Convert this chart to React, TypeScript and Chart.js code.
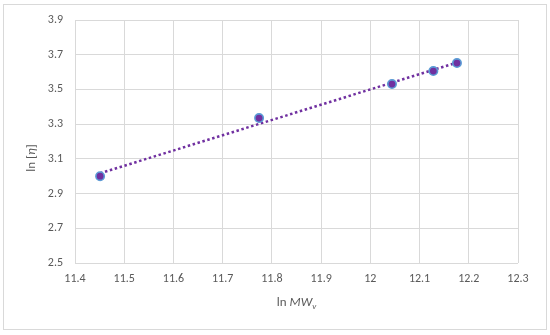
import React, { useEffect, useRef } from "react";
import { Chart, registerables } from "chart.js";

Chart.register(...registerables);

const lnMW = [11.451, 11.774, 12.044, 12.128, 12.176];
const lnEta = [3.0, 3.335, 3.531, 3.606, 3.652];
const trendX = [11.451, 12.176];
const trendY = [3.017, 3.655];
const xTicks = [11.4, 11.5, 11.6, 11.7, 11.8, 11.9, 12, 12.1, 12.2, 12.3];
const yTicks = [2.5, 2.7, 2.9, 3.1, 3.3, 3.5, 3.7, 3.9];

const FONT = "Carlito, Calibri, Lato, 'Open Sans', sans-serif";
const TEXT = "#595959";
const GRID = "#d9d9d9";

const decorPlugin = {
  id: "decor",
  beforeDraw(chart: any) {
    const ctx = chart.ctx;
    ctx.save();
    ctx.fillStyle = "#ffffff";
    ctx.fillRect(0, 0, chart.width, chart.height);
    ctx.strokeStyle = GRID;
    ctx.lineWidth = 1;
    ctx.strokeRect(3.5, 4.5, 543, 325);
    ctx.restore();
  },
  afterDraw(chart: any) {
    const ctx = chart.ctx;
    const area = chart.chartArea;
    ctx.save();
    ctx.fillStyle = TEXT;
    ctx.textBaseline = "middle";
    ctx.textAlign = "left";
    // X title: ln MW_v
    const normal = `13px ${FONT}`;
    const ital = `italic 13px ${FONT}`;
    const sub = `italic 9px ${FONT}`;
    const parts: [string, string, number][] = [
      ["ln ", normal, 0],
      ["MW", ital, 0],
      ["v", sub, 4],
    ];
    let w = 0;
    for (const [t, f] of parts) {
      ctx.font = f;
      w += ctx.measureText(t).width;
    }
    let x = (area.left + area.right) / 2 - w / 2;
    const y = 303;
    for (const [t, f, dy] of parts) {
      ctx.font = f;
      ctx.fillText(t, x, y + dy);
      x += ctx.measureText(t).width;
    }
    // Y title: ln [η]
    const yparts: [string, string][] = [
      ["ln [", normal],
      ["η", ital],
      ["]", normal],
    ];
    let yw = 0;
    for (const [t, f] of yparts) {
      ctx.font = f;
      yw += ctx.measureText(t).width;
    }
    ctx.translate(32, 158);
    ctx.rotate(-Math.PI / 2);
    let px = -yw / 2;
    for (const [t, f] of yparts) {
      ctx.font = f;
      ctx.fillText(t, px, 0);
      px += ctx.measureText(t).width;
    }
    ctx.restore();
  },
};

export default function App() {
  const ref = useRef<HTMLCanvasElement | null>(null);
  useEffect(() => {
    document.body.style.margin = "0";
    const canvas = ref.current;
    if (!canvas) return;
    const chart = new Chart(canvas, {
      type: "scatter",
      data: {
        datasets: [
          {
            label: "points",
            data: lnMW.map((v, i) => ({ x: v, y: lnEta[i] })),
            pointRadius: 4.2,
            pointBackgroundColor: "#7030A0",
            pointBorderColor: "#5B9BD5",
            pointBorderWidth: 1.6,
            showLine: false,
            order: 0,
          },
          {
            label: "trend",
            data: trendX.map((v, i) => ({ x: v, y: trendY[i] })),
            showLine: true,
            borderColor: "#7030A0",
            borderWidth: 2.5,
            borderDash: [2.5, 2.6],
            pointRadius: 0,
            order: 1,
          },
        ],
      },
      options: {
        animation: false,
        responsive: false,
        devicePixelRatio: 1,
        layout: { padding: { left: 0, top: 20, right: 32, bottom: 0 } },
        plugins: {
          legend: { display: false },
          tooltip: { enabled: false },
        },
        scales: {
          x: {
            type: "linear",
            min: 11.4,
            max: 12.3,
            afterBuildTicks: (s: any) => {
              s.ticks = xTicks.map((v) => ({ value: v }));
            },
            afterFit: (s: any) => {
              s.height = 72;
            },
            grid: { color: GRID, lineWidth: 1, drawTicks: false },
            border: { display: false },
            ticks: {
              color: TEXT,
              font: { family: FONT, size: 12 },
              padding: 9,
              callback: (v: any) => String(Math.round(Number(v) * 10) / 10),
            },
          },
          y: {
            type: "linear",
            min: 2.5,
            max: 3.9,
            afterBuildTicks: (s: any) => {
              s.ticks = yTicks.map((v) => ({ value: v }));
            },
            afterFit: (s: any) => {
              s.width = 75;
            },
            grid: { color: GRID, lineWidth: 1, drawTicks: false },
            border: { display: false },
            ticks: {
              color: TEXT,
              font: { family: FONT, size: 12 },
              padding: 12,
              callback: (v: any) => Number(v).toFixed(1),
            },
          },
        },
      },
      plugins: [decorPlugin],
    } as any);
    return () => chart.destroy();
  }, []);
  return (
    <div style={{ width: 550, height: 335 }}>
      <canvas ref={ref} width={550} height={335} style={{ display: "block" }} />
    </div>
  );
}
